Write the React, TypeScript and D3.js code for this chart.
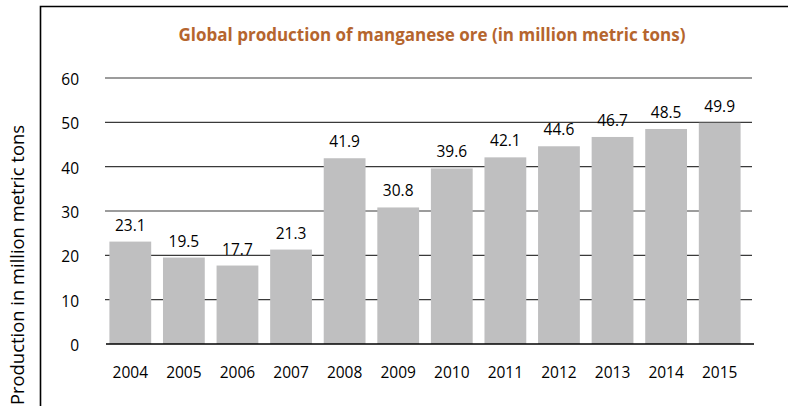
import React from "react";
import * as d3 from "d3";

const years = ["2004","2005","2006","2007","2008","2009","2010","2011","2012","2013","2014","2015"];
const production = [23.1, 19.5, 17.7, 21.3, 41.9, 30.8, 39.6, 42.1, 44.6, 46.7, 48.5, 49.9];
const yTicks = [0, 10, 20, 30, 40, 50, 60];
const title = "Global production of manganese ore (in million metric tons)";
const yTitle = "Production in million metric tons";

const W = 788, H = 406;
const FONT = "'Open Sans', 'DejaVu Sans', sans-serif";

export default function App() {
  const x = d3.scaleBand<string>().domain(years).range([103.5, 746.5]).paddingInner(0.22).paddingOuter(0.11);
  const y = d3.scaleLinear().domain([0, 60]).range([344, 78]);
  const fmt = d3.format(".1f");
  return (
    <svg width={W} height={H} style={{ position: "absolute", left: 0, top: 0, background: "#fff" }}>
      <rect x={0} y={0} width={W} height={H} fill="#fff" />
      {/* frame */}
      <path d={`M40.5,${H} L40.5,6.5 L${W},6.5`} fill="none" stroke="#000" strokeWidth={1.6} />
      <text x={432} y={41} textAnchor="middle" fontFamily={FONT} fontWeight={700} fontSize={17} fill="#B5652E">{title}</text>
      {/* gridlines */}
      {yTicks.filter(t => t > 0).map(t => (
        <line key={t} x1={105} x2={752} y1={y(t)} y2={y(t)} stroke="#3a3a3a" strokeWidth={1.2} />
      ))}
      {yTicks.map(t => (
        <text key={"l" + t} x={79} y={y(t) + 7} textAnchor="end" fontFamily={FONT} fontSize={15.5} fill="#000">{t}</text>
      ))}
      {/* bars */}
      {production.map((v, i) => (
        <rect key={years[i]} x={x(years[i])} y={y(v)} width={x.bandwidth()} height={y(0) - y(v)} fill="#BFBFC0" />
      ))}
      <line x1={106} x2={754} y1={y(0)} y2={y(0)} stroke="#000" strokeWidth={1.4} />
      {production.map((v, i) => (
        <text key={"v" + i} x={(x(years[i]) as number) + x.bandwidth() / 2} y={y(v) - 11} textAnchor="middle" fontFamily={FONT} fontSize={15.5} fill="#000">{fmt(v)}</text>
      ))}
      {years.map(yr => (
        <text key={"x" + yr} x={(x(yr) as number) + x.bandwidth() / 2} y={378} textAnchor="middle" fontFamily={FONT} fontSize={15.5} fill="#000">{yr}</text>
      ))}
      <text transform={`translate(24,125) rotate(-90)`} textAnchor="end" fontFamily={FONT} fontSize={18.4} fill="#000">{yTitle}</text>
    </svg>
  );
}
